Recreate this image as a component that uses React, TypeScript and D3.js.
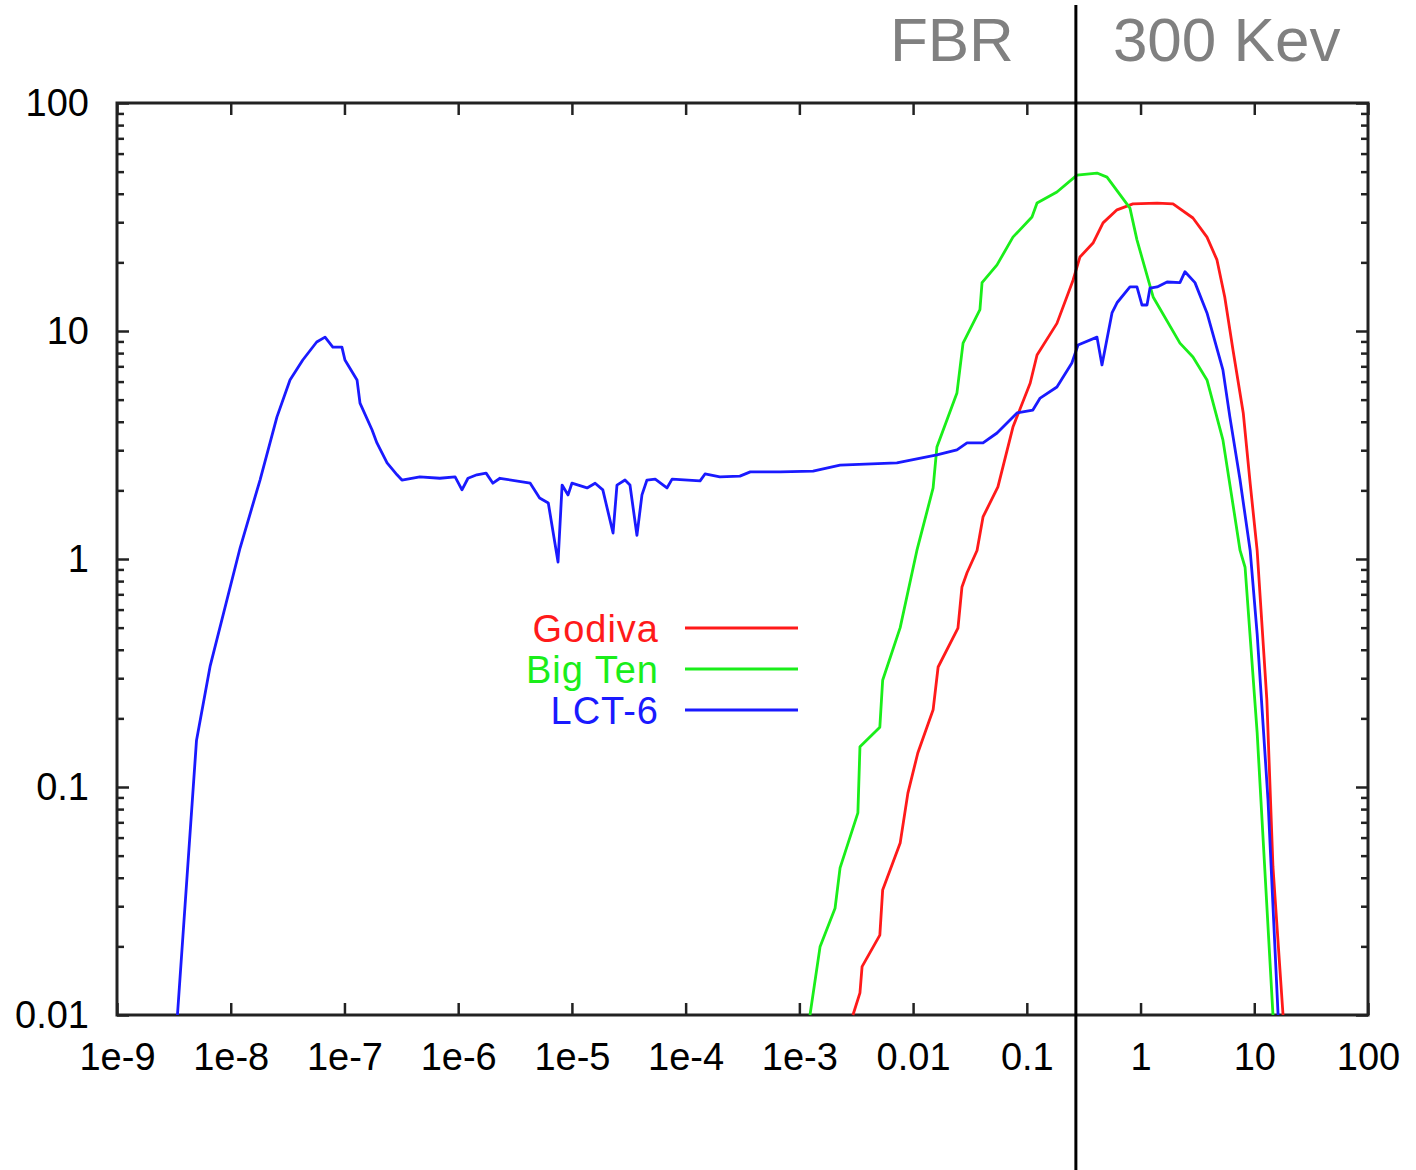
import React, { useEffect, useRef } from 'react'
import * as d3 from 'd3'

// neutron energy (MeV) and flux per unit lethargy
const godivaEnergy = [2.96e-3, 3.41e-3, 3.56e-3, 5.1e-3, 5.4e-3, 7.7e-3, 9.0e-3, 0.011, 0.015, 0.0166, 0.0248, 0.0269, 0.0298, 0.0365, 0.0412, 0.0557, 0.0755, 0.107, 0.123, 0.184, 0.255, 0.293, 0.382, 0.468, 0.621, 0.857, 1.4, 1.93, 2.89, 3.84, 4.7, 5.5, 6.5, 8.0, 9.2, 10.6, 12.9, 14.6, 17.9]
const godivaFlux = [0.01, 0.0125, 0.0163, 0.0224, 0.0353, 0.0568, 0.094, 0.141, 0.218, 0.336, 0.498, 0.754, 0.87, 1.09, 1.53, 2.07, 3.79, 5.9, 7.85, 10.8, 16.7, 21.1, 24.3, 29.8, 34.0, 36.1, 36.4, 36.1, 31.3, 25.8, 20.5, 14.1, 8.26, 4.37, 2.15, 1.09, 0.241, 0.0446, 0.01]

const bigTenEnergy = [1.24e-3, 1.52e-3, 2.06e-3, 2.28e-3, 3.27e-3, 3.41e-3, 5.1e-3, 5.4e-3, 7.7e-3, 0.0108, 0.015, 0.0162, 0.0243, 0.0275, 0.0387, 0.0404, 0.0547, 0.0755, 0.111, 0.123, 0.184, 0.276, 0.414, 0.507, 0.807, 0.93, 1.29, 2.22, 2.89, 3.84, 5.3, 6.4, 7.5, 8.3, 10.6, 14.6]
const bigTenFlux = [0.01, 0.0199, 0.0294, 0.0442, 0.077, 0.15, 0.183, 0.294, 0.5, 1.09, 2.05, 3.1, 5.35, 8.85, 12.4, 16.3, 19.5, 25.8, 31.6, 36.4, 40.7, 48.3, 49.3, 47.3, 34.6, 25.1, 14.1, 8.85, 7.69, 6.1, 3.33, 1.82, 1.09, 0.92, 0.173, 0.01]

const lct6Energy = [3.4e-9, 5.0e-9, 6.6e-9, 1.21e-8, 1.81e-8, 2.55e-8, 3.32e-8, 4.3e-8, 5.7e-8, 6.75e-8, 7.9e-8, 9.5e-8, 1.01e-7, 1.29e-7, 1.37e-7, 1.75e-7, 1.93e-7, 2.37e-7, 2.9e-7, 3.2e-7, 4.6e-7, 6.9e-7, 9.4e-7, 1.08e-6, 1.22e-6, 1.46e-6, 1.76e-6, 2.02e-6, 2.33e-6, 4.3e-6, 5.2e-6, 6.2e-6, 7.55e-6, 8.2e-6, 9.25e-6, 1.0e-5, 1.36e-5, 1.6e-5, 1.87e-5, 2.3e-5, 2.49e-5, 2.93e-5, 3.24e-5, 3.73e-5, 4.13e-5, 4.57e-5, 5.4e-5, 6.85e-5, 7.6e-5, 1.34e-4, 1.48e-4, 2.0e-4, 3.0e-4, 3.7e-4, 6.8e-4, 1.32e-3, 2.28e-3, 7.2e-3, 0.0162, 0.0243, 0.0298, 0.0412, 0.0547, 0.082, 0.113, 0.131, 0.184, 0.249, 0.282, 0.414, 0.458, 0.561, 0.621, 0.807, 0.93, 1.03, 1.14, 1.21, 1.4, 1.71, 2.22, 2.46, 3.01, 3.84, 5.3, 6.1, 7.5, 9.2, 10.6, 13.2, 16.2]
const lct6Flux = [0.01, 0.16, 0.34, 1.12, 2.22, 4.2, 6.1, 7.46, 8.95, 9.4, 8.5, 8.5, 7.46, 6.1, 4.83, 3.68, 3.23, 2.64, 2.34, 2.22, 2.29, 2.26, 2.29, 2.01, 2.26, 2.34, 2.38, 2.15, 2.26, 2.15, 1.85, 1.76, 0.97, 2.11, 1.91, 2.15, 2.05, 2.15, 2.01, 1.3, 2.11, 2.22, 2.11, 1.27, 1.91, 2.22, 2.24, 2.05, 2.24, 2.2, 2.36, 2.29, 2.31, 2.41, 2.41, 2.43, 2.58, 2.64, 2.86, 3.01, 3.23, 3.23, 3.57, 4.37, 4.5, 5.08, 5.68, 7.24, 8.68, 9.4, 7.1, 12.0, 13.3, 15.6, 15.6, 13.0, 13.0, 15.4, 15.6, 16.4, 16.3, 18.2, 16.3, 12.0, 6.75, 4.2, 2.22, 1.09, 0.47, 0.088, 0.01]

const seriesNames = ['Godiva', 'Big Ten', 'LCT-6']
const seriesColors = ['#ff1a1a', '#1aee1a', '#1a1aff']

const xTickValues = [1e-9, 1e-8, 1e-7, 1e-6, 1e-5, 1e-4, 1e-3, 0.01, 0.1, 1, 10, 100]
const xTickLabels = ['1e-9', '1e-8', '1e-7', '1e-6', '1e-5', '1e-4', '1e-3', '0.01', '0.1', '1', '10', '100']
const yTickValues = [0.01, 0.1, 1, 10, 100]
const yTickLabels = ['0.01', '0.1', '1', '10', '100']

const cutoffEnergy = 0.27 // ~300 keV
const regionLabels = ['FBR', '300 Kev']

export default function App() {
    const svgRef = useRef<SVGSVGElement>(null)

    useEffect(() => {
        const W = 1416, H = 1170
        const margin = { top: 103, right: 48, bottom: 155, left: 117 }
        const w = W - margin.left - margin.right
        const h = H - margin.top - margin.bottom
        const font = '"Liberation Sans", Arial, Helvetica, sans-serif'

        const svg = d3.select(svgRef.current)
        svg.selectAll('*').remove()
        svg.append('rect').attr('width', W).attr('height', H).attr('fill', 'white')

        const g = svg.append('g').attr('transform', `translate(${margin.left}, ${margin.top})`)

        const x = d3.scaleLog().domain([1e-9, 100]).range([0, w])
        const y = d3.scaleLog().domain([0.01, 100]).range([h, 0])

        // minor y ticks 2..9 in each decade
        const minorY: number[] = []
        for (let d = -2; d < 2; d++) for (let k = 2; k <= 9; k++) minorY.push(k * Math.pow(10, d))

        const styleAxis = (sel: any) => {
            sel.select('.domain').remove()
            sel.selectAll('line').attr('stroke', '#222').attr('stroke-width', 2.5)
            sel.selectAll('text').attr('fill', '#000').style('font-family', font).style('font-size', '38px')
        }

        // Bottom axis with labels
        g.append('g').attr('transform', `translate(0, ${h})`)
            .call(d3.axisBottom(x).tickValues(xTickValues).tickSize(-12).tickPadding(28)
                .tickFormat((d, i) => xTickLabels[i]))
            .call(styleAxis)
        // Top axis ticks
        g.append('g')
            .call(d3.axisTop(x).tickValues(xTickValues).tickSize(-12).tickFormat(() => ''))
            .call(styleAxis)

        // Left axis with labels
        g.append('g')
            .call(d3.axisLeft(y).tickValues(yTickValues).tickSize(-12).tickPadding(28)
                .tickFormat((d, i) => yTickLabels[i]))
            .call(styleAxis)
        g.append('g')
            .call(d3.axisLeft(y).tickValues(minorY).tickSize(-7).tickFormat(() => ''))
            .call(styleAxis)
        // Right axis ticks
        g.append('g').attr('transform', `translate(${w}, 0)`)
            .call(d3.axisRight(y).tickValues(yTickValues).tickSize(-12).tickFormat(() => ''))
            .call(styleAxis)
        g.append('g').attr('transform', `translate(${w}, 0)`)
            .call(d3.axisRight(y).tickValues(minorY).tickSize(-7).tickFormat(() => ''))
            .call(styleAxis)

        // Frame
        g.append('rect').attr('width', w).attr('height', h)
            .attr('fill', 'none').attr('stroke', '#222').attr('stroke-width', 3)

        // Curves
        const seriesData = [
            godivaEnergy.map((e, i) => [e, godivaFlux[i]]),
            bigTenEnergy.map((e, i) => [e, bigTenFlux[i]]),
            lct6Energy.map((e, i) => [e, lct6Flux[i]]),
        ]
        const line = d3.line<number[]>().x(d => x(d[0])).y(d => y(d[1]))
        seriesData.forEach((data, i) => {
            g.append('path').datum(data)
                .attr('d', line)
                .attr('fill', 'none')
                .attr('stroke', seriesColors[i])
                .attr('stroke-width', 2.8)
                .attr('stroke-linejoin', 'round')
        })

        // Legend
        const legend = g.append('g').attr('transform', `translate(${685 - margin.left}, ${628 - margin.top})`)
        seriesNames.forEach((name, i) => {
            legend.append('text')
                .attr('x', -26).attr('y', i * 41)
                .attr('dy', '0.36em')
                .attr('text-anchor', 'end')
                .attr('fill', seriesColors[i])
                .style('font-family', font)
                .style('font-size', '38px')
                .style('letter-spacing', '1px')
                .text(name)
            legend.append('line')
                .attr('x1', 0).attr('x2', 113)
                .attr('y1', i * 41).attr('y2', i * 41)
                .attr('stroke', seriesColors[i])
                .attr('stroke-width', 3)
        })

        // 300 keV divider and region labels
        const cx = margin.left + x(cutoffEnergy)
        svg.append('line')
            .attr('x1', cx).attr('x2', cx)
            .attr('y1', 5).attr('y2', H)
            .attr('stroke', '#000').attr('stroke-width', 3)
        svg.append('text')
            .attr('x', cx - 62).attr('y', 61)
            .attr('text-anchor', 'end')
            .attr('fill', '#808080')
            .style('font-family', font).style('font-size', '62px')
            .text(regionLabels[0])
        svg.append('text')
            .attr('x', cx + 37).attr('y', 61)
            .attr('fill', '#808080')
            .style('font-family', font).style('font-size', '62px')
            .text(regionLabels[1])
    }, [])

    return (
        <svg ref={svgRef} width={1416} height={1170}
            style={{ position: 'absolute', left: 0, top: 0, display: 'block' }} />
    )
}
